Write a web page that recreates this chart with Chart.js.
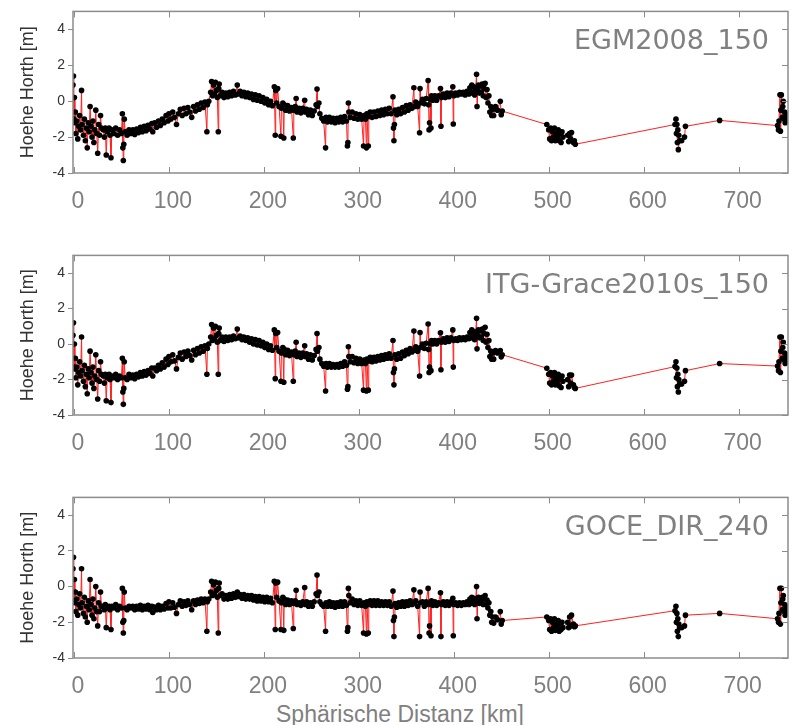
<!DOCTYPE html>
<html>
<head>
<meta charset="utf-8">
<title>Hoehe Horth</title>
<script src="https://cdn.jsdelivr.net/npm/chart.js@4.4.1/dist/chart.umd.min.js"></script>
<style>
    html, body { margin: 0; padding: 0; background: #fff; }
    #page { position: relative; width: 792px; height: 725px; overflow: hidden; }
    .panel { position: absolute; left: 0; width: 792px; height: 215px; }
    #xTitle {
        position: absolute; left: 0; width: 800px; top: 701px;
        text-align: center; line-height: 26px;
        font: 23px "Liberation Sans", Arial, sans-serif; color: #808080;
    }
</style>
</head>
<body>
<div id="page">
    <div class="panel" style="top:0px"><canvas id="egmChart"></canvas></div>
    <div class="panel" style="top:244px"><canvas id="itgChart"></canvas></div>
    <div class="panel" style="top:486px"><canvas id="goceChart"></canvas></div>
    <div id="xTitle">Sphärische Distanz [km]</div>
</div>
<script>
// Stations along the profile (km), shared by all three models
const distanzKm = [
    -1, -0.5, 0, 0.5, 1, 1.5, 2, 3, 4, 5, 6, 7, 8, 8.5, 10, 11, 12, 13, 14, 15, 16, 17, 18, 19, 20, 21, 22, 23, 24, 25, 26, 27, 28, 29,
    31, 32, 33, 34, 35, 37, 38, 39, 40, 42, 44, 46, 48, 50, 51, 51.5, 52, 52.5, 53, 54, 56, 58, 60,
    62, 64, 66, 68, 70, 72, 74, 76, 78, 80, 82, 83, 85, 87, 89, 91, 93, 95, 97, 99, 100,
    102, 104, 106, 108, 110, 112, 114, 116, 118, 120, 122, 124, 126, 128, 130, 132, 134, 136, 138, 140, 140.5, 142,
    144, 145, 146, 147, 148, 149, 150, 151, 152, 152.5, 153, 154, 156,
    158, 160, 162, 164, 166, 168, 170, 172, 173, 175, 177, 179, 181, 183, 185, 187, 189, 191, 193, 195, 197, 199, 201, 203, 205, 207, 209,
    211, 212, 212.5, 213.5, 214.5, 216, 218, 218.5, 220, 221, 221.5, 223, 225, 227, 229, 231, 231.5, 233, 234, 235,
    237, 239, 241, 243, 243.5, 245, 247, 249, 251, 253, 255, 256, 256.5, 258, 259, 261,
    263, 265, 265.5, 267, 269, 271, 273, 275, 277, 279, 281, 283, 285, 287, 288, 288.5, 289, 289.5, 291, 293, 295, 297, 299, 301,
    303, 305, 305.5, 307, 308, 308.5, 310, 310.5, 312, 314, 316, 318, 320, 322, 324, 326, 328, 330,
    332, 334, 336, 336.5, 337, 337.5, 338, 340, 342, 344, 346, 348, 350, 352, 354, 356,
    358, 358.5, 360, 362, 364, 364.5, 365, 367, 369, 371, 373, 373.5, 374, 374.5, 375.5, 376, 376.5, 378, 380, 382, 384, 386, 386.5, 387, 389, 391, 393, 395, 397, 399, 399.5, 400,
    402, 404, 406, 408, 410, 412, 414, 416, 417, 418, 419, 420, 421, 422, 423, 424, 424.5, 425, 426, 427, 428, 429, 430, 431, 432, 433, 434, 435, 436, 437, 438, 439, 440, 441, 442, 444, 446, 449, 450, 451,
    498, 500, 501, 502, 503, 504, 505, 506, 507, 508, 509, 510, 511, 512, 513, 514, 515,
    520, 521, 522, 523, 524, 526, 527, 528,
    633, 634, 634.5, 635, 635.5, 636, 636.5, 637, 638, 640, 643, 644,
    680,
    741, 742, 742.5, 743.5, 744, 744.5, 745, 746, 746.5, 747, 748, 748.5, 749, 750, 750.5, 751, 751.5
];

const egm2008 = [
    0.9, 1.4, -1.0, 0.2, -1.2, -0.6, -1.8, -1.1, -2.1, -1.4, -0.8, -1.6, 0.6, -1.3, -1.9, -1.0, -2.2, -1.5, -2.6, -1.2, -1.7, -0.3, -1.4, -2.0, -1.1, -2.3, -1.6, -0.5, -1.8, -2.9, -1.3, -1.9, -0.8, -1.5,
    -1.6, -2.0, -1.5, -3.0, -1.7, -1.5, -1.9, -3.15, -1.6, -1.8, -1.5, -1.9, -1.6, -1.8, -0.7, -2.6, -3.3, -2.4, -1.0, -1.7, -1.9, -1.6, -1.8,
    -1.6, -1.85, -1.55, -1.75, -1.45, -1.7, -1.4, -1.65, -1.35, -1.55, -1.25, -1.7, -1.2, -1.45, -1.1, -1.35, -1.0, -1.2, -0.8, -1.1, -0.7,
    -1.0, -0.6, -0.9, -1.3, -0.7, -0.45, -0.8, -0.4, -0.7, -0.35, -0.6, -0.9, -0.3, -0.55, -0.2, -0.45, -0.1, -0.35, -0.05, -1.7, -0.2, 0.0,
    0.5, 1.1, 0.3, 0.9, 0.4, 1.05, 0.6, 0.2, -1.7, 0.7, 0.95, 0.3, 0.5,
    0.2, 0.45, 0.25, 0.5, 0.3, 0.55, 0.35, 0.9, 0.4, 0.55, 0.3, 0.5, 0.25, 0.45, 0.2, 0.4, 0.1, 0.35, 0.05, 0.3, 0.0, 0.2, -0.1, 0.1, -0.2, 0.0, -0.25,
    0.8, -1.9, 0.6, -0.1, 0.7, -0.3, -1.95, -0.4, -0.1, -2.05, -0.2, -0.5, -0.25, -0.55, -0.35, -2.05, -0.5, -0.3, 0.15, -0.6,
    -0.4, -0.65, -0.4, 0.05, -0.6, -0.45, -0.75, -0.5, -0.8, -0.55, -0.2, 0.68, -0.3, -0.1, -0.7, -0.95,
    -1.1, -2.6, -0.9, -1.15, -0.9, -1.15, -0.95, -1.2, -0.95, -1.15, -0.9, -1.15, -0.85, -1.1, -2.5, -2.3, -0.1, -0.6, -0.9, -0.6, -0.95, -0.7, -1.0, -0.75,
    -1.0, -2.5, -0.8, -1.0, -2.6, -0.7, -2.5, -0.85, -0.6, -0.9, -0.6, -0.85, -0.55, -0.8, -0.5, -0.75, -0.45, -0.7,
    -0.4, -0.7, 0.25, -1.5, -2.2, -1.3, -0.5, -0.75, -0.45, -0.7, -0.35, -0.6, -0.25, -0.5, -0.2, -0.4,
    0.75, -0.3, -0.05, -0.3, -1.76, 0.7, -0.1, 0.1, -0.15, 0.15, 1.15, -0.2, -1.6, -1.2, 0.1, -1.5, 0.3, 0.05, 0.3, 0.05, 0.3, 0.7, -1.4, 0.2, 0.4, 0.2, 0.45, 0.25, 0.45, 0.8, -1.27, 0.3,
    0.45, 0.35, 0.5, 0.4, 0.5, 0.35, 0.55, 0.4, 0.75, 0.45, 0.9, 0.5, 0.8, 0.35, 0.7, 1.5, -0.3, 0.6, 0.9, 0.45, 0.85, 0.5, 0.95, 0.3, 0.7, 1.0, 0.2, 0.65, -0.1, 0.3, -0.6, -0.3, -0.8, -0.45, -0.8, -0.3, -0.5, 0.0, -0.75, -0.55,
    -1.3, -1.6, -2.1, -1.5, -2.2, -1.7, -2.0, -1.5, -2.2, -1.8, -2.0, -1.6, -2.2, -1.8, -2.3, -1.7, -2.0,
    -1.9, -2.25, -1.8, -2.1, -1.75, -2.3, -2.2, -2.4,
    -1.3, -1.0, -1.8, -1.3, -2.3, -1.6, -2.7, -1.9, -2.2, -2.2, -2.0, -1.4,
    -1.07,
    -1.36, -1.6, -1.1, 0.36, -1.67, -0.5, 0.35, -0.9, -0.3, 0.0, -1.0, -0.6, -1.2, -0.7, -1.0, -0.8, -1.1
];

const itgGrace2010s = [
    0.5, 1.2, -1.3, 0.0, -1.4, -0.8, -1.9, -1.3, -2.3, -1.6, -1.0, -1.8, 0.4, -1.5, -2.1, -1.2, -2.4, -1.7, -2.8, -1.4, -1.9, -0.4, -1.6, -2.2, -1.3, -2.5, -1.8, -0.6, -2.0, -3.1, -1.5, -2.1, -1.0, -1.7,
    -1.8, -2.2, -1.7, -3.2, -1.9, -1.7, -2.0, -3.3, -1.8, -1.9, -1.7, -2.0, -1.8, -1.9, -0.8, -2.7, -3.4, -2.5, -1.0, -1.9, -2.0, -1.7, -1.9,
    -1.75, -1.95, -1.7, -1.85, -1.6, -1.8, -1.55, -1.75, -1.5, -1.65, -1.35, -1.8, -1.35, -1.5, -1.2, -1.4, -1.05, -1.3, -0.85, -1.15, -0.7,
    -1.0, -0.6, -0.95, -1.4, -0.75, -0.5, -0.85, -0.45, -0.7, -0.4, -0.65, -0.9, -0.35, -0.6, -0.25, -0.5, -0.15, -0.4, -0.1, -1.7, -0.25, 0.0,
    0.4, 1.1, 0.2, 0.9, 0.3, 1.0, 0.5, 0.1, -1.7, 0.6, 0.9, 0.2, 0.4,
    0.15, 0.4, 0.2, 0.4, 0.25, 0.45, 0.3, 0.85, 0.35, 0.45, 0.25, 0.4, 0.2, 0.35, 0.1, 0.3, 0.0, 0.25, -0.05, 0.2, -0.1, 0.1, -0.2, 0.0, -0.3, -0.1, -0.35,
    0.8, -1.95, 0.6, -0.2, 0.65, -0.4, -2.1, -0.5, -0.2, -2.15, -0.3, -0.6, -0.35, -0.65, -0.45, -2.1, -0.6, -0.4, 0.1, -0.7,
    -0.5, -0.75, -0.5, -0.1, -0.7, -0.55, -0.85, -0.6, -0.9, -0.65, -0.3, 0.6, -0.4, -0.2, -0.85, -1.1,
    -1.25, -2.65, -1.1, -1.3, -1.1, -1.3, -1.15, -1.3, -1.15, -1.3, -1.1, -1.25, -1.0, -1.2, -2.55, -2.4, -0.15, -0.7, -1.0, -0.7, -1.05, -0.8, -1.1, -0.85,
    -1.1, -2.6, -0.9, -1.1, -2.65, -0.85, -2.6, -0.95, -0.75, -1.0, -0.75, -0.95, -0.7, -0.9, -0.65, -0.85, -0.6, -0.8,
    -0.55, -0.8, 0.2, -1.6, -2.3, -1.4, -0.6, -0.85, -0.55, -0.8, -0.45, -0.65, -0.35, -0.55, -0.25, -0.45,
    0.73, -0.35, -0.15, -0.4, -1.8, 0.65, -0.2, 0.0, -0.25, 0.05, 1.13, -0.3, -1.6, -1.3, 0.0, -1.5, 0.2, 0.0, 0.2, 0.0, 0.2, 0.64, -1.45, 0.1, 0.3, 0.1, 0.35, 0.15, 0.35, 0.8, -1.3, 0.2,
    0.3, 0.2, 0.35, 0.25, 0.35, 0.25, 0.4, 0.3, 0.65, 0.35, 0.8, 0.4, 0.7, 0.25, 0.6, 1.45, -0.27, 0.5, 0.8, 0.35, 0.75, 0.4, 0.85, 0.2, 0.6, 0.95, 0.1, 0.55, -0.2, 0.2, -0.7, -0.4, -0.85, -0.5, -0.85, -0.36, -0.5, -0.36, -0.72, -0.6,
    -1.36, -1.7, -2.2, -1.6, -2.3, -1.8, -2.1, -1.6, -2.3, -1.9, -2.1, -1.7, -2.35, -1.9, -2.45, -1.8, -2.1,
    -2.0, -2.4, -1.75, -2.2, -1.75, -2.3, -2.45, -2.5,
    -1.27, -1.0, -1.9, -1.35, -2.4, -1.7, -2.7, -2.0, -2.25, -2.25, -2.1, -1.5,
    -1.1,
    -1.24, -1.5, -1.0, 0.4, -1.6, -0.4, 0.4, -0.8, -0.2, 0.1, -0.9, -0.5, -1.1, -0.6, -0.9, -0.75, -1.0
];

const goceDir240 = [
    1.0, 1.65, -0.8, 0.4, -0.9, -0.3, -1.4, -0.7, -1.6, -1.0, -0.4, -1.2, 1.0, -0.9, -1.5, -0.6, -1.7, -1.1, -2.0, -0.8, -1.3, 0.4, -1.0, -1.6, -0.7, -1.8, -1.2, 0.0, -1.4, -2.2, -0.9, -1.4, -0.3, -1.1,
    -1.1, -1.3, -1.0, -2.3, -1.2, -1.1, -1.3, -2.4, -1.1, -1.2, -1.0, -1.3, -1.1, -1.2, -0.1, -2.0, -2.6, -1.9, -0.3, -1.2, -1.3, -1.1, -1.2,
    -1.1, -1.3, -1.1, -1.25, -1.05, -1.3, -1.1, -1.25, -1.05, -1.3, -1.1, -1.45, -1.15, -1.3, -1.05, -1.3, -1.1, -1.25, -0.95, -1.2, -0.85,
    -1.2, -0.9, -1.15, -1.5, -1.0, -0.8, -1.1, -0.85, -1.05, -0.8, -1.0, -1.3, -0.8, -1.0, -0.75, -0.95, -0.7, -0.9, -0.7, -2.5, -0.85, -0.7,
    -0.3, 0.3, -0.5, 0.1, -0.4, 0.25, -0.2, -0.6, -2.6, -0.1, 0.2, -0.5, -0.4,
    -0.7, -0.5, -0.7, -0.45, -0.65, -0.4, -0.6, -0.3, -0.55, -0.45, -0.65, -0.45, -0.7, -0.5, -0.7, -0.5, -0.75, -0.55, -0.8, -0.55, -0.8, -0.6, -0.85, -0.6, -0.85, -0.65, -0.9,
    0.3, -2.4, 0.2, -0.6, 0.25, -0.8, -2.4, -0.9, -0.6, -2.45, -0.7, -1.0, -0.75, -1.0, -0.8, -2.35, -0.95, -0.8, -0.2, -1.0,
    -0.9, -1.05, -0.85, -0.05, -1.0, -0.85, -1.1, -0.9, -1.1, -0.85, -0.4, 0.65, -0.5, -0.3, -0.85, -1.0,
    -1.1, -2.5, -0.9, -1.1, -0.85, -1.1, -0.9, -1.15, -0.9, -1.1, -0.85, -1.1, -0.85, -1.05, -2.5, -2.3, -0.1, -0.5, -0.9, -0.7, -1.0, -0.8, -1.05, -0.8,
    -1.05, -2.6, -0.9, -1.1, -2.65, -0.85, -2.6, -1.0, -0.8, -1.05, -0.8, -1.05, -0.8, -1.05, -0.85, -1.05, -0.85, -1.05,
    -0.85, -1.1, -0.25, -1.9, -2.8, -1.7, -0.95, -1.15, -0.9, -1.1, -0.85, -1.1, -0.85, -1.05, -0.8, -1.0,
    -0.18, -0.95, -0.8, -1.1, -2.8, -0.3, -0.9, -0.85, -1.1, -0.85, -0.1, -1.0, -2.6, -2.2, -0.9, -2.75, -0.8, -1.05, -0.85, -1.05, -0.9, -0.35, -2.8, -1.0, -0.85, -1.05, -0.85, -1.05, -0.85, -0.65, -2.75, -1.0,
    -0.9, -1.05, -0.9, -1.05, -0.9, -1.0, -0.85, -1.0, -0.7, -0.95, -0.6, -0.9, -0.65, -1.0, -0.7, 0.0, -1.8, -0.8, -0.6, -0.95, -0.65, -0.9, -0.6, -1.0, -0.7, -0.5, -1.0, -0.75, -1.2, -0.9, -1.6, -1.4, -2.0, -1.7, -2.05, -1.7, -1.85, -1.4, -2.1, -1.9,
    -1.7, -1.9, -2.4, -1.8, -2.5, -2.0, -2.3, -1.8, -2.45, -2.1, -2.35, -1.9, -2.5, -2.1, -2.4, -2.0, -2.3,
    -2.0, -2.3, -1.7, -2.2, -1.6, -2.1, -2.25, -2.2,
    -1.35, -1.1, -2.0, -1.5, -2.5, -1.8, -2.8, -2.1, -2.3, -2.3, -2.2, -1.6,
    -1.5,
    -1.8, -2.0, -1.5, -0.1, -2.1, -0.9, -0.1, -1.3, -0.7, -0.5, -1.4, -1.0, -1.6, -1.1, -1.4, -1.2, -1.5
];

const modelNames = ['EGM2008_150', 'ITG-Grace2010s_150', 'GOCE_DIR_240'];
const xTickValues = [0, 100, 200, 300, 400, 500, 600, 700];
const yTickValues = [-4, -2, 0, 2, 4];

const sansFamily = '"Liberation Sans", Arial, sans-serif';

// box round the plot, inward ticks on top/bottom/right, model name
const framePlugin = {
    id: 'frame',
    afterDatasetsDraw(chart, args, opts) {
        const { ctx, chartArea: a, scales: { x, y } } = chart;
        ctx.save();
        ctx.strokeStyle = '#8c8c8c';
        ctx.lineWidth = 1.5;
        ctx.strokeRect(a.left, a.top, a.right - a.left, a.bottom - a.top);
        ctx.lineWidth = 1;
        ctx.beginPath();
        xTickValues.forEach(v => {
            const px = Math.round(x.getPixelForValue(v)) + 0.5;
            ctx.moveTo(px, a.top);
            ctx.lineTo(px, a.top + 6);
            ctx.moveTo(px, a.bottom);
            ctx.lineTo(px, a.bottom - 6);
        });
        yTickValues.forEach(v => {
            const py = Math.round(y.getPixelForValue(v)) + 0.5;
            ctx.moveTo(a.right, py);
            ctx.lineTo(a.right - 6, py);
        });
        ctx.stroke();
        ctx.font = '27px "DejaVu Sans", Verdana, sans-serif';
        ctx.fillStyle = '#808080';
        ctx.textAlign = 'right';
        ctx.textBaseline = 'alphabetic';
        ctx.fillText(opts.name, a.right - 19, a.top + 38);
        ctx.restore();
    }
};

function makePanel(canvasId, values, name, xAxisHeight) {
    const points = distanzKm.map((km, i) => ({ x: km, y: values[i] }));
    return new Chart(document.getElementById(canvasId), {
        type: 'line',
        data: {
            datasets: [{
                data: points,
                borderColor: '#ff2020',
                borderWidth: 1,
                pointRadius: 2.8,
                pointBackgroundColor: '#000000',
                pointBorderColor: '#000000',
                pointBorderWidth: 0,
                tension: 0
            }]
        },
        options: {
            animation: false,
            responsive: true,
            maintainAspectRatio: false,
            devicePixelRatio: 1,
            layout: { padding: { left: 0, right: 4, top: 8, bottom: 0 } },
            plugins: {
                legend: { display: false },
                tooltip: { enabled: false },
                frame: { name: name }
            },
            scales: {
                x: {
                    type: 'linear',
                    min: -1,
                    max: 752,
                    afterBuildTicks: scale => { scale.ticks = xTickValues.map(v => ({ value: v })); },
                    afterFit: scale => { scale.height = xAxisHeight; },
                    border: { display: false },
                    grid: { display: false, drawTicks: false },
                    ticks: {
                        font: { family: sansFamily, size: 23 },
                        color: '#808080',
                        padding: 15,
                        labelOffset: 4,
                        maxRotation: 0,
                        autoSkip: false
                    }
                },
                y: {
                    min: -4,
                    max: 5,
                    afterBuildTicks: scale => { scale.ticks = yTickValues.map(v => ({ value: v })); },
                    afterFit: scale => { scale.width = 73; },
                    border: { display: false },
                    grid: { drawOnChartArea: false, drawTicks: true, tickLength: 5, color: '#8c8c8c' },
                    ticks: {
                        font: { family: sansFamily, size: 14 },
                        color: '#333333',
                        padding: 3
                    },
                    title: {
                        display: true,
                        text: 'Hoehe Horth [m]',
                        font: { family: sansFamily, size: 18 },
                        color: '#333333',
                        padding: { top: 17, bottom: 0 }
                    }
                }
            }
        },
        plugins: [framePlugin]
    });
}

makePanel('egmChart', egm2008, modelNames[0], 42);
makePanel('itgChart', itgGrace2010s, modelNames[1], 44);
makePanel('goceChart', goceDir240, modelNames[2], 43);
</script>
</body>
</html>
